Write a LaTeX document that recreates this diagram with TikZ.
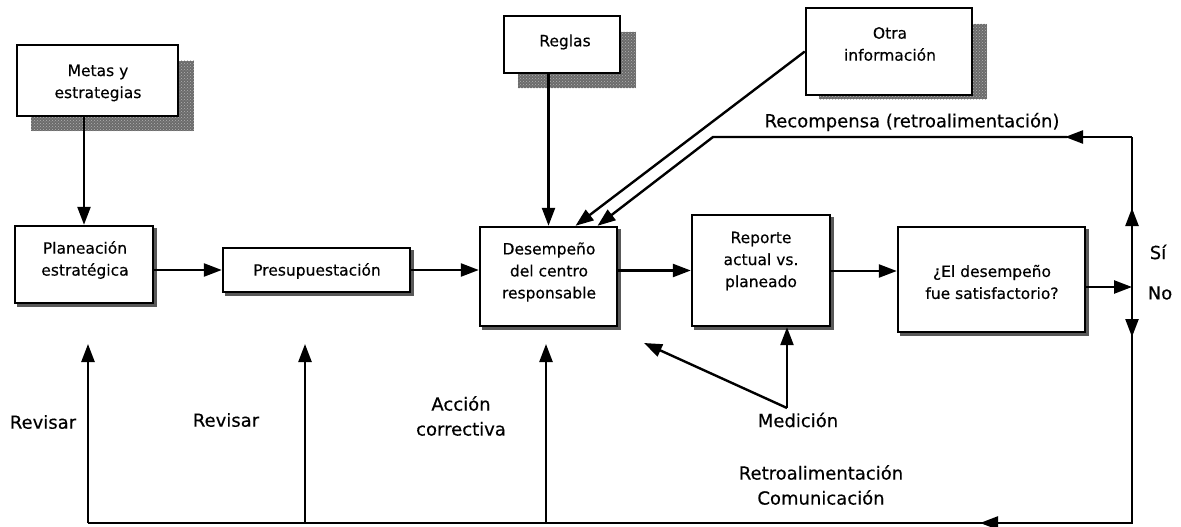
\documentclass[tikz,border=0pt]{standalone}
\usepackage{fontspec}
\setmainfont[FakeBold=0.35]{DejaVu Sans}
\usetikzlibrary{arrows.meta,calc,patterns,backgrounds}
\begin{document}
\begin{tikzpicture}[x=1pt,y=-1pt,
  wire/.style={line width=2.4pt},
  arr/.style={wire,-{Triangle[length=18pt,width=13pt]}},
  box/.style={draw,line width=2.4pt,fill=white,inner sep=0pt},
  txt/.style={align=center,font=\fontsize{15.5}{22}\selectfont,inner sep=0pt},
  lbl/.style={align=center,font=\fontsize{18}{25}\selectfont,inner sep=0pt},
  softshadow/.style={fill=black!58,postaction={pattern=crosshatch dots,pattern color=black!30}},
  thinshadow/.style={fill=black!65},
]
\useasboundingbox (0,0) rectangle (1181,527);

% input boxes
\node[box,minimum width=161pt,minimum height=71pt] (metas) at (97.5,80.5) {};
\node[txt] (metasT) at (98,83) {Metas y\\estrategias};
\node[box,minimum width=116pt,minimum height=57pt] (reglas) at (562,44.5) {};
\node[txt] (reglasT) at (565,42) {Reglas};
\node[box,minimum width=166pt,minimum height=87pt] (otra) at (889,51.5) {};
\node[txt] (otraT) at (890,44) {Otra\\información};

% main chain
\node[box,minimum width=138pt,minimum height=77pt] (plan) at (84,264.5) {};
\node[txt] (planT) at (85,260) {Planeación\\estratégica};
\node[box,minimum width=187pt,minimum height=44pt] (pres) at (316.5,270) {};
\node[txt] (presT) at (317,271) {Presupuestación};
\node[box,minimum width=137pt,minimum height=99pt] (des) at (548.5,276.5) {};
\node[txt] (desT) at (549,272) {Desempeño\\del centro\\responsable};
\node[box,minimum width=138pt,minimum height=111pt] (rep) at (761,270.5) {};
\node[txt] (repT) at (761,261) {Reporte\\actual vs.\\planeado};
\node[box,minimum width=187pt,minimum height=105pt] (eval) at (991.5,279.5) {};
\node[txt] (evalT) at (992,282) {¿El desempeño\\fue satisfactorio?};

% shadows
\begin{scope}[on background layer]
  \path[softshadow] ($(metas.north west)+(15,17)$) rectangle ($(metas.south east)+(15,14)$);
  \path[softshadow] ($(reglas.north west)+(15,17)$) rectangle ($(reglas.south east)+(15,14)$);
  \path[softshadow] ($(otra.north west)+(14,17)$) rectangle ($(otra.south east)+(14,3)$);
  \foreach \b in {plan,pres,des,rep,eval}
    \path[thinshadow] ($(\b.north west)+(3,3)$) rectangle ($(\b.south east)+(3,3)$);
\end{scope}

% labels
\node[lbl] (rev1) at (43,422) {Revisar};
\node[lbl] (rev2) at (226,420) {Revisar};
\node[lbl] (acc) at (461,416) {Acción\\correctiva};
\node[lbl] (medT) at (798,420) {Medición};
\node[lbl] (retro) at (821,485) {Retroalimentación\\Comunicación};
\node[lbl] (si) at (1158,252) {Sí};
\node[lbl] (no) at (1160,293) {No};
\node[lbl] (recomp) at (912,122) {Recompensa (retroalimentación)};

% routing points
\coordinate (jn) at (1132,287);
\coordinate (tr) at (1132,137);
\coordinate (tl) at (713,137);
\coordinate (br) at (1132,523);
\coordinate (bl) at (88,523);
\coordinate (b2) at (305,523);
\coordinate (b3) at (546,523);
\coordinate (u1) at (88,344);
\coordinate (u2) at (305,344);
\coordinate (u3) at (546,344);
\coordinate (mpt) at (787,408);
\coordinate (mtip) at (644,343);

% forward flow
\draw[arr] (metas.south -| plan.north) -- (plan.north);
\draw[arr] (plan.east |- pres.west) -- (pres.west);
\draw[arr] (pres.east) -- (pres.east -| des.west);
\draw[arr] (des.east |- rep.west) -- (rep.west);
\draw[arr] (rep.east |- 0,271) -- (eval.west |- 0,271);
\draw[arr] (des.north |- reglas.south) -- (des.north);
\draw[arr] (otra.west) -- ($(des.north)+(27,0)$);
\draw[arr] (eval.east |- jn) -- (jn);

% reward branch
\draw[arr] (jn) -- (1132,208);
\draw[wire] (1132,210) -- (tr);
\draw[arr,line join=miter] (tr) -- (1065,137);
\draw[arr] (1067,137) -- (tl) -- ($(des.north)+(49,0)$);

% feedback branch
\draw[arr] (jn) -- (1132,337);
\draw[wire,line join=miter] (1132,335) -- (br) -- (980,523);
\draw[arr] (br) -- (980,523);
\draw[wire] (982,523) -- (bl);
\draw[arr] (bl) -- (u1);
\draw[arr] (b2) -- (u2);
\draw[arr] (b3) -- (u3);

% measurement
\draw[arr] (mpt) -- (mpt |- rep.south);
\draw[arr] (mpt) -- (mtip);
\end{tikzpicture}
\end{document}
